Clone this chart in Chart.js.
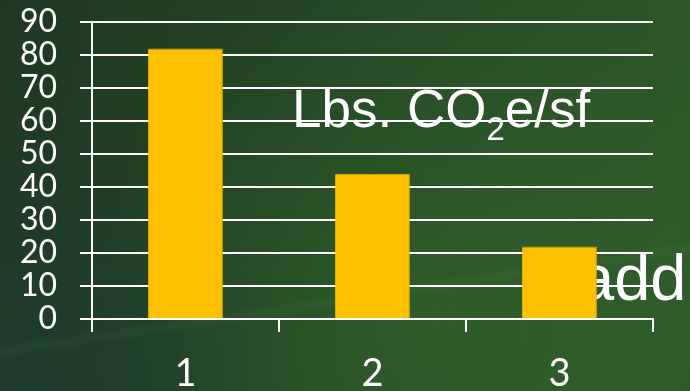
<!DOCTYPE html>
<html>
<head>
<meta charset="utf-8">
<script src="https://cdn.jsdelivr.net/npm/chart.js@4/dist/chart.umd.min.js"></script>
<style>
  html, body { margin: 0; padding: 0; background: #213d24; }
  #wrap { width: 690px; height: 391px; position: relative; }
</style>
</head>
<body>
<div id="wrap"><canvas id="chart" width="690" height="391"></canvas></div>
<script>
// Embodied carbon per square foot for three options
const categories = ['1', '2', '3'];
const co2PerSf = [82, 44, 22];
const yTickValues = [0, 10, 20, 30, 40, 50, 60, 70, 80, 90];

const WHITE = '#ffffff';
const BAR = '#ffc000';

// Dark green slide backdrop plus the two text boxes that sit behind the plot
const backdrop = {
  id: 'backdrop',
  beforeDraw(chart) {
    const { ctx, width, height } = chart;
    ctx.save();
    const base = ctx.createLinearGradient(0, 0, width, height * 0.4);
    base.addColorStop(0, '#1f3822');
    base.addColorStop(0.45, '#244524');
    base.addColorStop(1, '#2f5829');
    ctx.fillStyle = base;
    ctx.fillRect(0, 0, width, height);

    // brighter green glow towards the lower middle / right
    const glow = ctx.createRadialGradient(width * 0.62, height * 0.8, 10, width * 0.62, height * 0.8, width * 0.5);
    glow.addColorStop(0, 'rgba(56,112,50,0.40)');
    glow.addColorStop(1, 'rgba(56,112,50,0)');
    ctx.fillStyle = glow;
    ctx.fillRect(0, 0, width, height);

    // teal shade in the lower-left corner
    const corner = ctx.createRadialGradient(0, height, 10, 0, height, width * 0.42);
    corner.addColorStop(0, 'rgba(30,60,48,0.8)');
    corner.addColorStop(1, 'rgba(30,60,48,0)');
    ctx.fillStyle = corner;
    ctx.fillRect(0, 0, width, height);

    // faint diagonal light streak
    ctx.translate(0, 352);
    ctx.rotate(-0.15);
    const streak = ctx.createLinearGradient(0, -8, 0, 8);
    streak.addColorStop(0, 'rgba(140,200,150,0)');
    streak.addColorStop(0.5, 'rgba(140,200,150,0.05)');
    streak.addColorStop(1, 'rgba(140,200,150,0)');
    ctx.fillStyle = streak;
    ctx.fillRect(0, -8, width * 1.1, 16);
    ctx.restore();

    // text boxes
    ctx.save();
    ctx.fillStyle = WHITE;
    ctx.textBaseline = 'alphabetic';
    ctx.textAlign = 'left';
    ctx.font = '53px "Liberation Sans", Arial, sans-serif';
    let x = 292;
    const base1 = 127;
    const part1 = 'Lbs. CO';
    ctx.fillText(part1, x, base1);
    x += ctx.measureText(part1).width;
    ctx.font = '33px "Liberation Sans", Arial, sans-serif';
    ctx.fillText('2', x, base1 + 13);
    x += ctx.measureText('2').width;
    ctx.font = '53px "Liberation Sans", Arial, sans-serif';
    ctx.fillText('e/sf', x, base1);

    ctx.font = '65px "Liberation Sans", Arial, sans-serif';
    ctx.fillText('add', 578, 300);
    ctx.restore();
  }
};

new Chart(document.getElementById('chart'), {
  type: 'bar',
  data: {
    labels: categories,
    datasets: [{
      data: co2PerSf,
      backgroundColor: BAR,
      borderColor: '#e0a800',
      borderWidth: { top: 1, right: 1, left: 0, bottom: 0 },
      barPercentage: 0.8,
      categoryPercentage: 0.5
    }]
  },
  options: {
    responsive: false,
    animation: false,
    devicePixelRatio: 1,
    layout: { padding: { left: 0, top: 22, right: 37, bottom: 0 } },
    plugins: { legend: { display: false }, tooltip: { enabled: false } },
    scales: {
      x: {
        type: 'category',
        grid: {
          offset: true,
          drawOnChartArea: false,
          drawTicks: true,
          tickLength: 13,
          color: WHITE,
          lineWidth: 2
        },
        border: { display: true, color: WHITE, width: 2 },
        ticks: {
          color: WHITE,
          font: { family: 'Lato', size: 38 },
          padding: 19,
          maxRotation: 0
        },
        afterFit(scale) { scale.height = 72; }
      },
      y: {
        min: 0,
        max: 90,
        afterBuildTicks(scale) { scale.ticks = yTickValues.map(v => ({ value: v })); },
        grid: {
          color: WHITE,
          lineWidth: 2,
          drawTicks: true,
          tickLength: 12
        },
        border: { display: true, color: WHITE, width: 2 },
        ticks: {
          color: WHITE,
          font: { family: 'Lato', size: 32 },
          padding: 23,
          autoSkip: false
        },
        afterFit(scale) {
          scale.width = 92;
          scale.paddingTop = 0;
          scale.paddingBottom = 0;
        }
      }
    }
  },
  plugins: [backdrop]
});
</script>
</body>
</html>
